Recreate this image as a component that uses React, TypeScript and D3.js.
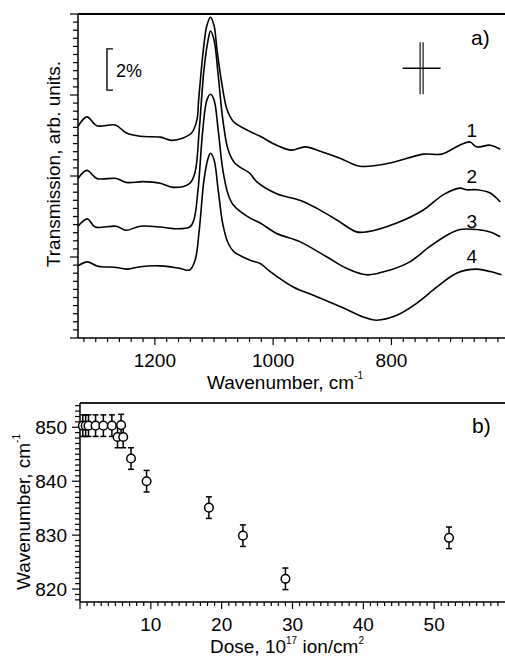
import * as d3 from 'd3'

// spectra, panel a): [wavenumber cm-1, transmission arb. units]
const trace1: [number, number][] = [
  [1330, 26.1], [1315, 27.3], [1298, 26.2], [1267, 26.3], [1248, 25.3], [1225, 24.9],
  [1191, 24.8], [1172, 24.4], [1152, 24.7], [1138, 25.3], [1129, 26.9], [1126, 29.4],
  [1118, 35.6], [1112, 38.6], [1106, 39.6], [1100, 38.6], [1095, 35.6], [1087, 31.5],
  [1078, 28.2], [1067, 26.7], [1039, 25.5], [1022, 24.9], [994, 23.8], [969, 23.2],
  [946, 23.6], [918, 23.0], [887, 22.2], [853, 21.2], [802, 21.6], [746, 22.7],
  [715, 22.7], [690, 23.6], [678, 24.0], [667, 24.2], [656, 23.6], [633, 23.8], [616, 23.3],
]
const trace2: [number, number][] = [
  [1330, 19.7], [1315, 20.7], [1298, 19.7], [1265, 19.7], [1248, 19.2], [1220, 19.3],
  [1191, 19.1], [1169, 18.6], [1141, 19.1], [1132, 20.5], [1125, 25.7], [1117, 33.1],
  [1110, 36.8], [1106, 37.9], [1100, 36.8], [1093, 32.5], [1085, 26.9], [1076, 23.2],
  [1065, 21.6], [1039, 20.3], [1028, 19.3], [994, 17.8], [955, 17.0], [926, 16.0],
  [893, 14.6], [859, 13.1], [842, 13.1], [791, 14.2], [746, 15.8], [712, 17.7],
  [684, 18.5], [673, 18.3], [656, 18.3], [633, 17.9], [616, 16.8],
]
const trace3: [number, number][] = [
  [1330, 13.8], [1314, 14.7], [1301, 13.7], [1265, 13.8], [1249, 13.3], [1225, 13.8],
  [1191, 13.7], [1169, 13.5], [1141, 13.7], [1134, 14.6], [1127, 18.3], [1119, 25.7],
  [1112, 29.4], [1106, 30.1], [1100, 29.4], [1093, 25.7], [1085, 20.7], [1076, 17.7],
  [1067, 16.4], [1039, 14.8], [1022, 14.2], [994, 12.9], [955, 11.9], [909, 10.0],
  [876, 8.6], [842, 7.8], [802, 8.4], [769, 9.4], [735, 11.3], [701, 12.9],
  [684, 13.4], [656, 13.4], [633, 13.1], [616, 12.5],
]
const trace4: [number, number][] = [
  [1330, 8.9], [1314, 9.4], [1298, 8.9], [1265, 8.7], [1248, 8.5], [1225, 8.8],
  [1191, 8.9], [1158, 8.6], [1141, 8.4], [1132, 9.6], [1125, 13.3], [1117, 19.5],
  [1110, 22.2], [1106, 22.8], [1100, 22.0], [1093, 18.3], [1085, 14.0], [1076, 11.7],
  [1067, 10.7], [1039, 9.6], [1022, 9.2], [1005, 8.2], [966, 6.3], [926, 5.1],
  [881, 3.7], [848, 2.6], [825, 2.2], [791, 2.8], [757, 4.3], [723, 6.3],
  [690, 8.0], [656, 8.5], [633, 8.2], [614, 7.8],
]
const traces = [trace1, trace2, trace3, trace4]
const traceLabels = ['1', '2', '3', '4']
const traceLabelPos = [24.8, 19.1, 13.6, 9.3]
const wnTicks = [1200, 1000, 800]

// panel b): dose (1e17 ion/cm2) vs band position (cm-1)
const dose = [0.4, 0.8, 1.2, 2.2, 3.3, 4.5, 5.3, 5.8, 6.1, 7.2, 9.4, 18.2, 23.0, 29.0, 52.1]
const bandPos = [850.3, 850.3, 850.3, 850.3, 850.3, 850.3, 848.2, 850.4, 848.2, 844.2, 840.0, 835.1, 829.9, 821.9, 829.5]
const bandErr = [2, 2, 2, 2, 2, 2, 2, 2, 2, 2, 2, 2, 2, 2, 2]
const doseTicks = [10, 20, 30, 40, 50]
const posTicks = [820, 830, 840, 850]

const font = "'Liberation Sans', Arial, sans-serif"

export default function App() {
  const W = 505
  const H = 661

  // panel a
  const xA = d3.scaleLinear().domain([1330, 608]).range([78, 505])
  const yA = d3.scaleLinear().domain([0, 40]).range([338, 14])
  const line = d3
    .line<[number, number]>()
    .x((d) => xA(d[0]))
    .y((d) => yA(d[1]))
    .curve(d3.curveCatmullRom.alpha(0.5))
  const xATicks = d3.range(1320, 608, -20)
  const yATicks = d3.range(0, 41, 1)

  // panel b
  const xB = d3.scaleLinear().domain([0, 60]).range([80, 505])
  const yB = d3.scaleLinear().domain([817.6, 854.5]).range([602, 403])
  const xBTicks = d3.range(0, 60, 1)
  const yBTicks = d3.range(818, 855, 1)

  const crossX = xA(749)
  const crossY = yA(33.3)

  return (
    <svg
      width={W}
      height={H}
      style={{ position: 'absolute', left: 0, top: 0, background: '#fff' }}
      fontFamily={font}
    >
      {/* ---------- panel a ---------- */}
      <line x1={78} x2={505} y1={yA(40)} y2={yA(40)} stroke="#000" strokeWidth={2.2} />
      <line x1={78} x2={78} y1={yA(40)} y2={yA(0)} stroke="#000" strokeWidth={1.5} />
      <line x1={78} x2={505} y1={yA(0)} y2={yA(0)} stroke="#000" strokeWidth={1.5} />
      {yATicks.map((t) => (
        <line
          key={'ya' + t}
          x1={78}
          x2={t % 10 === 0 ? 70 : 73}
          y1={yA(t)}
          y2={yA(t)}
          stroke="#000"
          strokeWidth={1.2}
        />
      ))}
      {xATicks.map((t) => (
        <line
          key={'xa' + t}
          x1={xA(t)}
          x2={xA(t)}
          y1={yA(0)}
          y2={yA(0) + (t % 200 === 0 ? 7 : 4)}
          stroke="#000"
          strokeWidth={1.2}
        />
      ))}
      {wnTicks.map((t) => (
        <text key={'xal' + t} x={xA(t)} y={367} textAnchor="middle" fontSize={19}>
          {t}
        </text>
      ))}
      <text x={207} y={389} fontSize={19}>
        Wavenumber, cm
        <tspan fontSize={10} dy={-10}>-1</tspan>
      </text>
      <text
        transform={`translate(60,164) rotate(-90)`}
        textAnchor="middle"
        fontSize={19}
      >
        Transmission, arb. units.
      </text>

      {traces.map((tr, i) => (
        <path key={'tr' + i} d={line(tr) ?? ''} fill="none" stroke="#000" strokeWidth={1.6} />
      ))}
      {traceLabels.map((l, i) => (
        <text
          key={'tl' + l}
          x={xA(664)}
          y={yA(traceLabelPos[i])}
          textAnchor="middle"
          fontSize={19}
        >
          {l}
        </text>
      ))}

      {/* 2% scale bar */}
      <path
        d={`M${xA(1281) + 6},${yA(35.7)} H${xA(1281)} V${yA(30.6)} H${xA(1281) + 6}`}
        fill="none"
        stroke="#000"
        strokeWidth={1.4}
      />
      <text x={116} y={77} fontSize={18}>
        2%
      </text>

      {/* resolution cross */}
      <line x1={crossX - 19} x2={crossX + 19} y1={crossY} y2={crossY} stroke="#000" strokeWidth={1.5} />
      <line x1={crossX - 1.5} x2={crossX - 1.5} y1={crossY - 26} y2={crossY + 26} stroke="#000" strokeWidth={1.1} />
      <line x1={crossX + 1.5} x2={crossX + 1.5} y1={crossY - 26} y2={crossY + 26} stroke="#000" strokeWidth={1.1} />

      <text x={471} y={45} fontSize={21}>
        a)
      </text>

      {/* ---------- panel b ---------- */}
      <line x1={80} x2={505} y1={403} y2={403} stroke="#222" strokeWidth={2} />
      <line x1={80} x2={80} y1={403} y2={602} stroke="#000" strokeWidth={1.5} />
      <line x1={80} x2={505} y1={602} y2={602} stroke="#000" strokeWidth={1.5} />
      {yBTicks.map((t) => (
        <line
          key={'yb' + t}
          x1={80}
          x2={t % 10 === 0 ? 72 : 75}
          y1={yB(t)}
          y2={yB(t)}
          stroke="#000"
          strokeWidth={1.2}
        />
      ))}
      {xBTicks.map((t) => (
        <line
          key={'xb' + t}
          x1={xB(t)}
          x2={xB(t)}
          y1={602}
          y2={602 + (t % 10 === 0 ? 7 : 4)}
          stroke="#000"
          strokeWidth={1.2}
        />
      ))}
      {doseTicks.map((t) => (
        <text key={'xbl' + t} x={xB(t)} y={631} textAnchor="middle" fontSize={19}>
          {t}
        </text>
      ))}
      {posTicks.map((t) => (
        <text
          key={'ybl' + t}
          x={67}
          y={yB(t)}
          dy="0.35em"
          textAnchor="end"
          fontSize={19}
        >
          {t}
        </text>
      ))}
      <text x={210} y={653} fontSize={19}>
        Dose, 10
        <tspan fontSize={10} dy={-9}>17</tspan>
        <tspan dy={9}> ion/cm</tspan>
        <tspan fontSize={10} dy={-9}>2</tspan>
      </text>
      <text transform={`translate(30,590) rotate(-90)`} fontSize={19}>
        Wavenumber, cm
        <tspan fontSize={10} dy={-10}>-1</tspan>
      </text>

      {dose.map((d, i) => (
        <g key={'pt' + i}>
          <line
            x1={xB(d)}
            x2={xB(d)}
            y1={yB(bandPos[i] - bandErr[i])}
            y2={yB(bandPos[i] + bandErr[i])}
            stroke="#000"
            strokeWidth={1.5}
          />
          <line
            x1={xB(d) - 3}
            x2={xB(d) + 3}
            y1={yB(bandPos[i] - bandErr[i])}
            y2={yB(bandPos[i] - bandErr[i])}
            stroke="#000"
            strokeWidth={1.5}
          />
          <line
            x1={xB(d) - 3}
            x2={xB(d) + 3}
            y1={yB(bandPos[i] + bandErr[i])}
            y2={yB(bandPos[i] + bandErr[i])}
            stroke="#000"
            strokeWidth={1.5}
          />
        </g>
      ))}
      {dose.map((d, i) => (
        <circle
          key={'c' + i}
          cx={xB(d)}
          cy={yB(bandPos[i])}
          r={4.3}
          fill="#fff"
          stroke="#000"
          strokeWidth={1.5}
        />
      ))}
      <text x={472} y={433} fontSize={21}>
        b)
      </text>
    </svg>
  )
}
